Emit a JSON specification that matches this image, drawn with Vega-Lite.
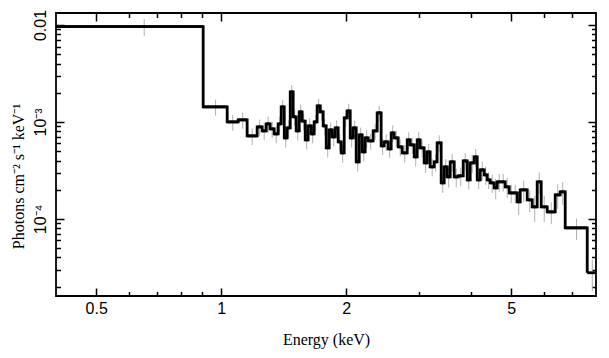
{
  "$schema": "https://vega.github.io/schema/vega-lite/v6.json",
  "autosize": "none",
  "width": 540,
  "height": 283,
  "padding": {"left": 56, "top": 13, "right": 13, "bottom": 62},
  "background": "white",
  "config": {
    "view": {"stroke": "black", "strokeWidth": 1.8},
    "axis": {"grid": false, "domain": false, "tickColor": "black", "tickWidth": 1.5, "labelColor": "black", "labelFont": "Liberation Sans", "labelFontSize": 16, "labelFlush": false, "labelOverlap": false, "titleFont": "Liberation Serif", "titleFontSize": 16, "titleFontWeight": "normal", "titleColor": "black"}
  },
  "data": {"values": [
    {"e_lo": 0.400, "e_hi": 0.905, "e_mid": 0.6525, "flux": 0.0096, "err": 0.0019},
    {"e_lo": 0.905, "e_hi": 1.034, "e_mid": 0.9695, "flux": 0.00143, "err": 0.00027},
    {"e_lo": 1.034, "e_hi": 1.099, "e_mid": 1.0665, "flux": 0.00100, "err": 0.00019},
    {"e_lo": 1.099, "e_hi": 1.155, "e_mid": 1.127, "flux": 0.00105, "err": 0.0002},
    {"e_lo": 1.155, "e_hi": 1.221, "e_mid": 1.188, "flux": 0.000717, "err": 0.00014},
    {"e_lo": 1.221, "e_hi": 1.255, "e_mid": 1.238, "flux": 0.000888, "err": 0.00017},
    {"e_lo": 1.255, "e_hi": 1.284, "e_mid": 1.2695, "flux": 0.000808, "err": 0.00016},
    {"e_lo": 1.284, "e_hi": 1.312, "e_mid": 1.298, "flux": 0.000954, "err": 0.00018},
    {"e_lo": 1.312, "e_hi": 1.342, "e_mid": 1.327, "flux": 0.000847, "err": 0.00016},
    {"e_lo": 1.342, "e_hi": 1.372, "e_mid": 1.357, "flux": 0.000752, "err": 0.00015},
    {"e_lo": 1.372, "e_hi": 1.395, "e_mid": 1.3835, "flux": 0.000954, "err": 0.00018},
    {"e_lo": 1.395, "e_hi": 1.419, "e_mid": 1.407, "flux": 0.00143, "err": 0.00026},
    {"e_lo": 1.419, "e_hi": 1.442, "e_mid": 1.4305, "flux": 0.000684, "err": 0.00014},
    {"e_lo": 1.442, "e_hi": 1.467, "e_mid": 1.4545, "flux": 0.000867, "err": 0.00017},
    {"e_lo": 1.467, "e_hi": 1.491, "e_mid": 1.479, "flux": 0.00204, "err": 0.00036},
    {"e_lo": 1.491, "e_hi": 1.516, "e_mid": 1.5035, "flux": 0.00113, "err": 0.00021},
    {"e_lo": 1.516, "e_hi": 1.542, "e_mid": 1.529, "flux": 0.000808, "err": 0.00016},
    {"e_lo": 1.542, "e_hi": 1.567, "e_mid": 1.5545, "flux": 0.00127, "err": 0.00024},
    {"e_lo": 1.567, "e_hi": 1.594, "e_mid": 1.5805, "flux": 0.00102, "err": 0.0002},
    {"e_lo": 1.594, "e_hi": 1.620, "e_mid": 1.607, "flux": 0.000652, "err": 0.00013},
    {"e_lo": 1.620, "e_hi": 1.648, "e_mid": 1.634, "flux": 0.000909, "err": 0.00018},
    {"e_lo": 1.648, "e_hi": 1.675, "e_mid": 1.6615, "flux": 0.000752, "err": 0.00015},
    {"e_lo": 1.675, "e_hi": 1.703, "e_mid": 1.689, "flux": 0.00100, "err": 0.00019},
    {"e_lo": 1.703, "e_hi": 1.732, "e_mid": 1.7175, "flux": 0.00146, "err": 0.00027},
    {"e_lo": 1.732, "e_hi": 1.761, "e_mid": 1.7465, "flux": 0.00127, "err": 0.00024},
    {"e_lo": 1.761, "e_hi": 1.791, "e_mid": 1.776, "flux": 0.000909, "err": 0.00018},
    {"e_lo": 1.791, "e_hi": 1.821, "e_mid": 1.806, "flux": 0.00054, "err": 0.00011},
    {"e_lo": 1.821, "e_hi": 1.851, "e_mid": 1.836, "flux": 0.000827, "err": 0.00016},
    {"e_lo": 1.851, "e_hi": 1.882, "e_mid": 1.8665, "flux": 0.0007, "err": 0.00014},
    {"e_lo": 1.882, "e_hi": 1.914, "e_mid": 1.898, "flux": 0.000867, "err": 0.00017},
    {"e_lo": 1.914, "e_hi": 1.946, "e_mid": 1.93, "flux": 0.000622, "err": 0.00012},
    {"e_lo": 1.946, "e_hi": 1.979, "e_mid": 1.9625, "flux": 0.000479, "err": 0.0001},
    {"e_lo": 1.979, "e_hi": 2.012, "e_mid": 1.9955, "flux": 0.0011, "err": 0.00021},
    {"e_lo": 2.012, "e_hi": 2.046, "e_mid": 2.029, "flux": 0.0013, "err": 0.00024},
    {"e_lo": 2.046, "e_hi": 2.080, "e_mid": 2.063, "flux": 0.000684, "err": 0.00014},
    {"e_lo": 2.080, "e_hi": 2.115, "e_mid": 2.0975, "flux": 0.000867, "err": 0.00017},
    {"e_lo": 2.115, "e_hi": 2.151, "e_mid": 2.133, "flux": 0.000387, "err": 0.00008},
    {"e_lo": 2.151, "e_hi": 2.187, "e_mid": 2.169, "flux": 0.000734, "err": 0.00014},
    {"e_lo": 2.187, "e_hi": 2.223, "e_mid": 2.205, "flux": 0.000491, "err": 0.0001},
    {"e_lo": 2.223, "e_hi": 2.261, "e_mid": 2.242, "flux": 0.000684, "err": 0.00014},
    {"e_lo": 2.261, "e_hi": 2.324, "e_mid": 2.2925, "flux": 0.000637, "err": 0.00012},
    {"e_lo": 2.324, "e_hi": 2.376, "e_mid": 2.35, "flux": 0.000808, "err": 0.00015},
    {"e_lo": 2.376, "e_hi": 2.429, "e_mid": 2.4025, "flux": 0.00124, "err": 0.00023},
    {"e_lo": 2.429, "e_hi": 2.470, "e_mid": 2.4495, "flux": 0.000566, "err": 0.00011},
    {"e_lo": 2.470, "e_hi": 2.525, "e_mid": 2.4975, "flux": 0.000622, "err": 0.00012},
    {"e_lo": 2.525, "e_hi": 2.568, "e_mid": 2.5465, "flux": 0.000527, "err": 0.0001},
    {"e_lo": 2.568, "e_hi": 2.611, "e_mid": 2.5895, "flux": 0.00077, "err": 0.00015},
    {"e_lo": 2.611, "e_hi": 2.670, "e_mid": 2.6405, "flux": 0.000684, "err": 0.00013},
    {"e_lo": 2.670, "e_hi": 2.730, "e_mid": 2.70, "flux": 0.000553, "err": 0.00011},
    {"e_lo": 2.730, "e_hi": 2.807, "e_mid": 2.7685, "flux": 0.000479, "err": 0.0001},
    {"e_lo": 2.807, "e_hi": 2.854, "e_mid": 2.8305, "flux": 0.000652, "err": 0.00013},
    {"e_lo": 2.854, "e_hi": 2.918, "e_mid": 2.886, "flux": 0.000579, "err": 0.00011},
    {"e_lo": 2.918, "e_hi": 2.967, "e_mid": 2.9425, "flux": 0.000436, "err": 0.00009},
    {"e_lo": 2.967, "e_hi": 3.016, "e_mid": 2.9915, "flux": 0.000652, "err": 0.00013},
    {"e_lo": 3.016, "e_hi": 3.084, "e_mid": 3.05, "flux": 0.00054, "err": 0.00011},
    {"e_lo": 3.084, "e_hi": 3.135, "e_mid": 3.1095, "flux": 0.000378, "err": 0.00008},
    {"e_lo": 3.135, "e_hi": 3.188, "e_mid": 3.1615, "flux": 0.000491, "err": 0.0001},
    {"e_lo": 3.188, "e_hi": 3.260, "e_mid": 3.224, "flux": 0.000344, "err": 0.00007},
    {"e_lo": 3.260, "e_hi": 3.314, "e_mid": 3.287, "flux": 0.000387, "err": 0.00008},
    {"e_lo": 3.314, "e_hi": 3.389, "e_mid": 3.3515, "flux": 0.000608, "err": 0.00012},
    {"e_lo": 3.389, "e_hi": 3.446, "e_mid": 3.4175, "flux": 0.000235, "err": 0.00005},
    {"e_lo": 3.446, "e_hi": 3.504, "e_mid": 3.475, "flux": 0.000344, "err": 0.00007},
    {"e_lo": 3.504, "e_hi": 3.563, "e_mid": 3.5335, "flux": 0.000271, "err": 0.00006},
    {"e_lo": 3.563, "e_hi": 3.643, "e_mid": 3.603, "flux": 0.000387, "err": 0.00008},
    {"e_lo": 3.643, "e_hi": 3.725, "e_mid": 3.684, "flux": 0.000271, "err": 0.00006},
    {"e_lo": 3.725, "e_hi": 3.830, "e_mid": 3.7775, "flux": 0.000278, "err": 0.00006},
    {"e_lo": 3.830, "e_hi": 3.916, "e_mid": 3.873, "flux": 0.000396, "err": 0.00008},
    {"e_lo": 3.916, "e_hi": 3.981, "e_mid": 3.9485, "flux": 0.000252, "err": 0.00005},
    {"e_lo": 3.981, "e_hi": 4.071, "e_mid": 4.026, "flux": 0.000378, "err": 0.00008},
    {"e_lo": 4.071, "e_hi": 4.139, "e_mid": 4.105, "flux": 0.000436, "err": 0.00009},
    {"e_lo": 4.139, "e_hi": 4.209, "e_mid": 4.174, "flux": 0.000252, "err": 0.00005},
    {"e_lo": 4.209, "e_hi": 4.303, "e_mid": 4.256, "flux": 0.00032, "err": 0.00007},
    {"e_lo": 4.303, "e_hi": 4.375, "e_mid": 4.339, "flux": 0.000284, "err": 0.00006},
    {"e_lo": 4.375, "e_hi": 4.449, "e_mid": 4.412, "flux": 0.000252, "err": 0.00005},
    {"e_lo": 4.449, "e_hi": 4.548, "e_mid": 4.4985, "flux": 0.000235, "err": 0.00005},
    {"e_lo": 4.548, "e_hi": 4.625, "e_mid": 4.5865, "flux": 0.000209, "err": 0.00005},
    {"e_lo": 4.625, "e_hi": 4.728, "e_mid": 4.6765, "flux": 0.000241, "err": 0.00005},
    {"e_lo": 4.728, "e_hi": 4.834, "e_mid": 4.781, "flux": 0.000241, "err": 0.00005},
    {"e_lo": 4.834, "e_hi": 4.943, "e_mid": 4.8885, "flux": 0.000214, "err": 0.00005},
    {"e_lo": 4.943, "e_hi": 5.054, "e_mid": 4.9985, "flux": 0.000185, "err": 0.00004},
    {"e_lo": 5.054, "e_hi": 5.167, "e_mid": 5.1105, "flux": 0.000185, "err": 0.00004},
    {"e_lo": 5.167, "e_hi": 5.254, "e_mid": 5.2105, "flux": 0.00015, "err": 0.00004},
    {"e_lo": 5.254, "e_hi": 5.462, "e_mid": 5.358, "flux": 0.000199, "err": 0.00005},
    {"e_lo": 5.462, "e_hi": 5.616, "e_mid": 5.539, "flux": 0.000157, "err": 0.00004},
    {"e_lo": 5.616, "e_hi": 5.773, "e_mid": 5.6945, "flux": 0.000133, "err": 0.00004},
    {"e_lo": 5.773, "e_hi": 5.903, "e_mid": 5.838, "flux": 0.000241, "err": 0.00006},
    {"e_lo": 5.903, "e_hi": 6.103, "e_mid": 6.003, "flux": 0.000133, "err": 0.00004},
    {"e_lo": 6.103, "e_hi": 6.380, "e_mid": 6.2415, "flux": 0.000118, "err": 0.00003},
    {"e_lo": 6.380, "e_hi": 6.559, "e_mid": 6.4695, "flux": 0.000177, "err": 0.00005},
    {"e_lo": 6.559, "e_hi": 6.744, "e_mid": 6.6515, "flux": 0.00019, "err": 0.00005},
    {"e_lo": 6.744, "e_hi": 7.620, "e_mid": 7.182, "flux": 0.0000808, "err": 0.00002},
    {"e_lo": 7.620, "e_hi": 8.054, "e_mid": 7.837, "flux": 0.0000278, "err": 0.00001}
  ]},
  "resolve": {"axis": {"x": "independent", "y": "independent"}},
  "layer": [
    {
      "mark": {"type": "errorbar", "color": "#b0b0b0", "thickness": 1},
      "encoding": {
        "x": {"field": "e_mid", "type": "quantitative",
          "scale": {"type": "log", "domain": [0.4, 8], "nice": false},
          "axis": {"orient": "bottom", "values": [0.5, 1, 2, 5], "format": "~g", "tickSize": -8, "labelPadding": 12, "title": "Energy (keV)", "titleY": 48, "titleBaseline": "alphabetic"}},
        "y": {"field": "flux", "type": "quantitative",
          "scale": {"type": "log", "domain": [0.000016, 0.0133], "nice": false},
          "axis": {"orient": "left", "values": [0.01, 0.001, 0.0001], "labelExpr": "datum.value > 0.005 ? '0.01' : (datum.value > 0.0005 ? '10⁻³' : '10⁻⁴')", "labelAngle": -90, "labelAlign": "center", "labelBaseline": "alphabetic", "tickSize": -8, "labelPadding": 19, "title": "Photons cm⁻² s⁻¹ keV⁻¹", "titleX": -33, "titleY": 163, "titleBaseline": "alphabetic", "titleAngle": -90}},
        "yError": {"field": "err"}
      }
    },
    {
      "mark": {"type": "line", "interpolate": "step-after", "color": "black", "strokeWidth": 2.8, "clip": true},
      "encoding": {
        "x": {"field": "e_lo", "type": "quantitative",
          "scale": {"type": "log", "domain": [0.4, 8], "nice": false},
          "axis": {"orient": "bottom", "values": [0.6, 0.7, 0.8, 0.9, 3, 4, 6, 7], "labels": false, "tickSize": -4.5, "title": null}},
        "y": {"field": "flux", "type": "quantitative",
          "scale": {"type": "log", "domain": [0.000016, 0.0133], "nice": false},
          "axis": {"orient": "left", "values": [0.00002, 0.00003, 0.00004, 0.00005, 0.00006, 0.00007, 0.00008, 0.00009, 0.0002, 0.0003, 0.0004, 0.0005, 0.0006, 0.0007, 0.0008, 0.0009, 0.002, 0.003, 0.004, 0.005, 0.006, 0.007, 0.008, 0.009], "labels": false, "tickSize": -4.5, "title": null}}
      }
    },
    {
      "mark": {"type": "rule", "color": "black", "strokeWidth": 2.8, "clip": true},
      "encoding": {
        "x": {"field": "e_lo", "type": "quantitative",
          "scale": {"type": "log", "domain": [0.4, 8], "nice": false},
          "axis": {"orient": "top", "values": [0.5, 1, 2, 5], "labels": false, "tickSize": -8, "title": null}},
        "x2": {"field": "e_hi"},
        "y": {"field": "flux", "type": "quantitative",
          "scale": {"type": "log", "domain": [0.000016, 0.0133], "nice": false},
          "axis": {"orient": "right", "values": [0.01, 0.001, 0.0001], "labels": false, "tickSize": -8, "title": null}}
      }
    },
    {
      "mark": {"type": "point", "opacity": 0},
      "encoding": {
        "x": {"field": "e_mid", "type": "quantitative",
          "scale": {"type": "log", "domain": [0.4, 8], "nice": false},
          "axis": {"orient": "top", "values": [0.6, 0.7, 0.8, 0.9, 3, 4, 6, 7], "labels": false, "tickSize": -4.5, "title": null}},
        "y": {"field": "flux", "type": "quantitative",
          "scale": {"type": "log", "domain": [0.000016, 0.0133], "nice": false},
          "axis": {"orient": "right", "values": [0.00002, 0.00003, 0.00004, 0.00005, 0.00006, 0.00007, 0.00008, 0.00009, 0.0002, 0.0003, 0.0004, 0.0005, 0.0006, 0.0007, 0.0008, 0.0009, 0.002, 0.003, 0.004, 0.005, 0.006, 0.007, 0.008, 0.009], "labels": false, "tickSize": -4.5, "title": null}}
      }
    }
  ]
}
